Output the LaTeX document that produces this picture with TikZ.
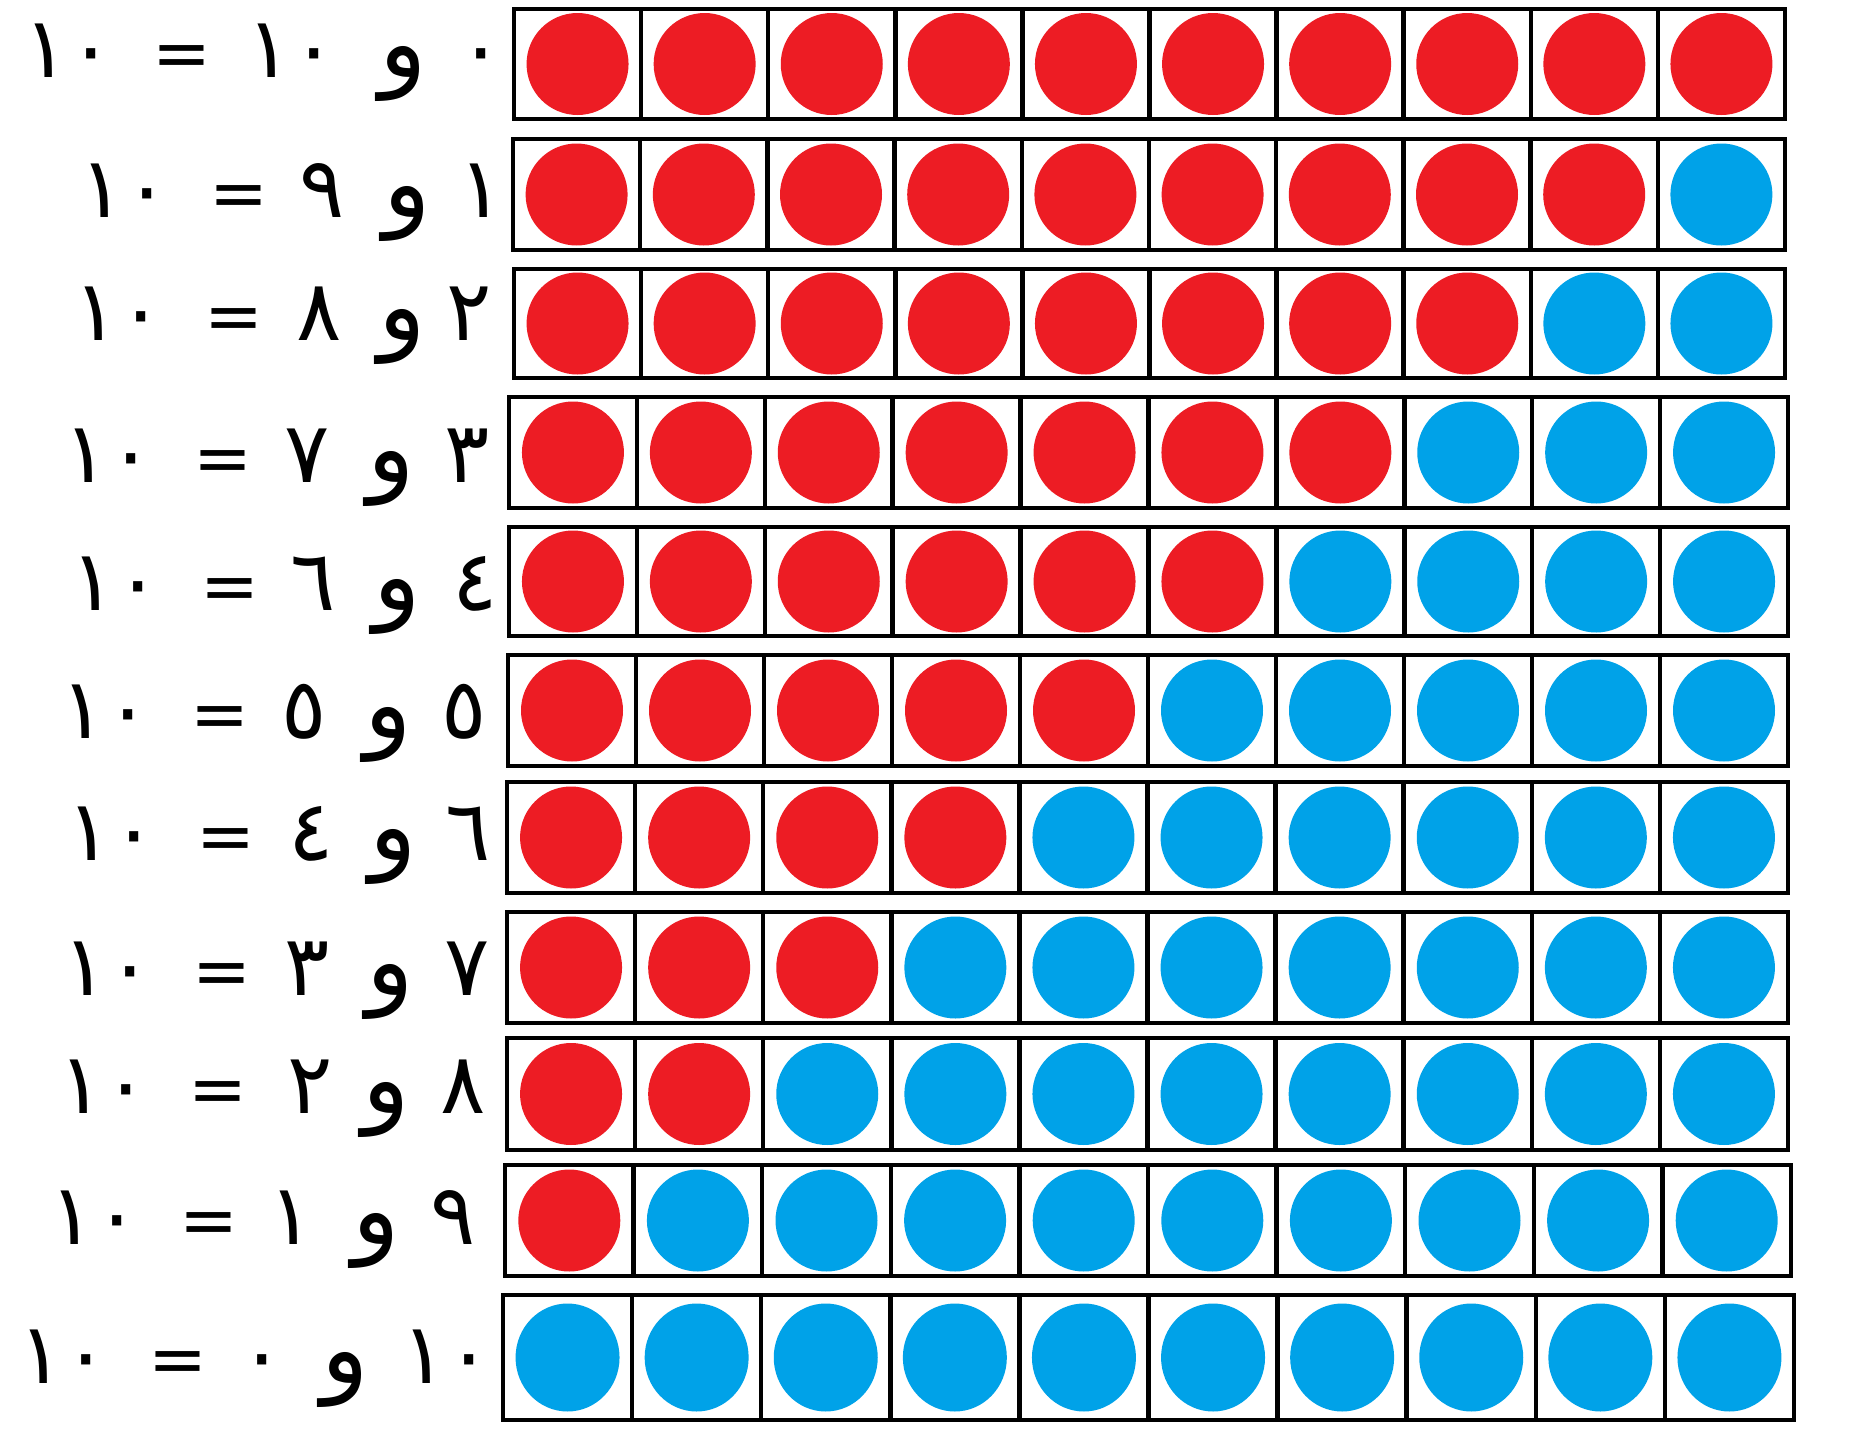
\documentclass[tikz,border=0pt]{standalone}
\usepackage{fontspec}
\usepackage{tikz}
\newfontfamily\arabicfont[Script=Arabic]{DejaVu Sans}
\definecolor{DotRed}{HTML}{ED1C24}
\definecolor{DotBlue}{HTML}{00A2E8}

\begin{document}
\begin{tikzpicture}[x=0.01cm,y=-0.01cm,
  frame/.style={draw=black,line width=0.45mm},
  eqtext/.style={anchor=base,inner sep=0pt,font=\arabicfont\fontsize{24}{28}\selectfont},
  eqsign/.style={eqtext,font=\arabicfont\fontsize{20}{24}\selectfont},
  eqwaw/.style={eqtext,font=\arabicfont\fontsize{28}{32}\selectfont}]
\path[use as bounding box] (0,0) rectangle (1850,1436);
\fill[white] (0,0) rectangle (1850,1436);
% one ten frame per row: red dots first, blue dots after
\foreach \r/\L/\R/\T/\B/\rx/\ry in {1/514/1785/9/119/51/51,2/513/1785/139/250/51/51,
  3/514/1785/269/378/51/51,4/509/1788/397/508/51/51,5/509/1788/527/636/51/51,
  6/508/1788/655/766/51/51,7/507/1788/782/893/51/51,8/507/1788/912/1023/51/51,
  9/507/1788/1038/1150/51/51,10/505/1791/1165/1276/51/51,11/503/1794/1295/1420/52/54}{
  \pgfmathsetmacro\w{(\R-\L)/10}
  \pgfmathsetmacro\cy{(\T+\B)/2}
  \pgfmathtruncatemacro\nred{11-\r}
  \foreach \i in {1,...,10}{
    \pgfmathsetmacro\cx{\L+(\i-0.5)*\w}
    \ifnum\i>\nred \def\dotcol{DotBlue}\else\def\dotcol{DotRed}\fi
    \fill[\dotcol] (\cx,\cy) circle [x radius=\rx,y radius=\ry];
  }
  \draw[frame] (\L,\T) rectangle (\R,\B);
  \foreach \i in {1,...,9}
    \draw[frame] ({\L+\i*\w},\T) -- ({\L+\i*\w},\B);
}
% the sums, set token by token from right to left
\foreach \r/\na/\nb/\base/\xten/\xeq/\xb/\xw/\xa in {
  1/٠/١٠/77/69/182/292/403/481,
  2/١/٩/217/125/239/322/407/481,
  3/٢/٨/340/119/234/319/402/469,
  4/٣/٧/482/109/223/307/391/467,
  5/٤/٦/610/116/230/313/397/475,
  6/٥/٥/738/106/220/304/388/464,
  7/٦/٤/860/112/226/311/393/468,
  8/٧/٣/995/108/222/307/390/467,
  9/٨/٢/1113/104/218/310/386/463,
  10/٩/١/1244/95/209/291/376/453,
  11/١٠/٠/1383/64/178/262/345/447}{
  \node[eqtext] (ten\r) at (\xten,\base) {١٠};
  \node[eqsign] (eq\r) at (\xeq,\base) {=};
  \node[eqtext] (b\r) at (\xb,\base) {\nb};
  \node[eqwaw] (waw\r) at (\xw,\base) {و};
  \node[eqtext] (a\r) at (\xa,\base) {\na};
}
\end{tikzpicture}
\end{document}
